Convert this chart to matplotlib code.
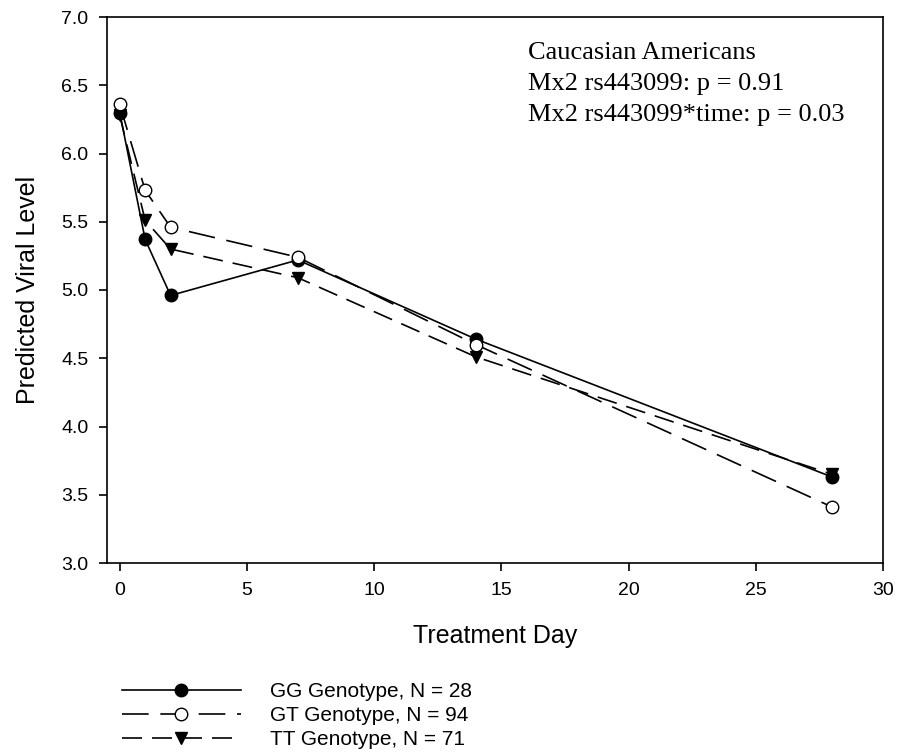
import matplotlib
matplotlib.use("Agg")
import matplotlib.pyplot as plt

days = [0, 1, 2, 7, 14, 28]
gg = [6.30, 5.37, 4.96, 5.22, 4.64, 3.63]
gt = [6.36, 5.73, 5.46, 5.24, 4.60, 3.41]
tt = [6.28, 5.51, 5.30, 5.09, 4.51, 3.65]
labels = ["GG Genotype, N = 28", "GT Genotype, N = 94", "TT Genotype, N = 71"]
xticks = [0, 5, 10, 15, 20, 25, 30]
yticks = [3.0, 3.5, 4.0, 4.5, 5.0, 5.5, 6.0, 6.5, 7.0]
annot = ["Caucasian Americans", "Mx2 rs443099: p = 0.91", "Mx2 rs443099*time: p = 0.03"]

plt.rcParams['font.family'] = ['Liberation Sans', 'DejaVu Sans']

fig = plt.figure(figsize=(9.15, 7.55), dpi=100)
ax = fig.add_axes([107/915, 1-563/755, (883-107)/915, (563-17)/755])

l1, = ax.plot(days, gg, color='black', lw=1.2, marker='o', ms=9, mfc='black', mec='black', zorder=3)
l2, = ax.plot(days, gt, color='black', lw=1.2, marker='o', ms=9, mfc='white', mec='black',
              dashes=(16, 7), zorder=4)
l3, = ax.plot(days, tt, color='black', lw=1.2, marker='v', ms=9, mfc='black', mec='black',
              dashes=(12, 6), zorder=2)

ax.set_xlim(-0.5, 30)
ax.set_ylim(3.0, 7.0)
ax.set_xticks(xticks)
ax.set_xticklabels([str(t) for t in xticks])
ax.set_yticks(yticks)
ax.set_yticklabels([f"{t:.1f}" for t in yticks])
ax.tick_params(direction='out', length=5.5, width=1.2, labelsize=14, pad=8, top=False, right=False)
for s in ax.spines.values():
    s.set_linewidth(1.2)

ax.set_xlabel("Treatment Day", fontsize=18, labelpad=18)
ax.set_ylabel("Predicted Viral Level", fontsize=18, labelpad=15)

ax.text((528-107)/776, 1-(42-17)/546, "\n".join(annot), transform=ax.transAxes, ha='left', va='top',
        fontsize=19, family=['Liberation Serif', 'DejaVu Serif'], linespacing=1.52)

fig.legend([l1, l2, l3], labels, loc='upper left', bbox_to_anchor=(122/915, 1-682/755),
           frameon=False, fontsize=15, handlelength=5.7, handletextpad=1.4,
           labelspacing=0.25, borderaxespad=0, borderpad=0)

fig.savefig("out.png", dpi=100)
